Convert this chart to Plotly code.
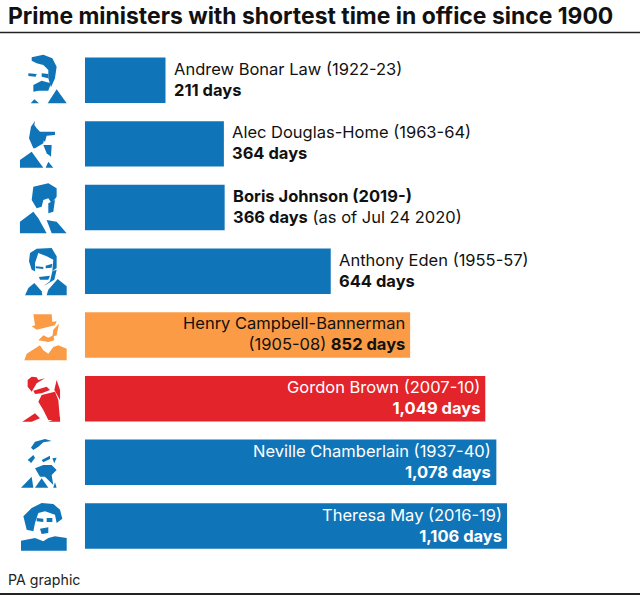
import plotly.graph_objects as go

names = ["Andrew Bonar Law", "Alec Douglas-Home", "Boris Johnson", "Anthony Eden",
         "Henry Campbell-Bannerman", "Gordon Brown", "Neville Chamberlain", "Theresa May"]
days = [211, 364, 366, 644, 852, 1049, 1078, 1106]
colors = ["#0f75b8", "#0f75b8", "#0f75b8", "#0f75b8", "#fb9b45", "#e3242b", "#0f75b8", "#0f75b8"]
labels = ["Andrew Bonar Law (1922-23)<br><b>211 days</b>",
          "Alec Douglas-Home (1963-64)<br><b>364 days</b>",
          "<b>Boris Johnson (2019-)</b><br><b>366 days</b> (as of Jul 24 2020)",
          "Anthony Eden (1955-57)<br><b>644 days</b>",
          "Henry Campbell-Bannerman<br>(1905-08) <b>852 days</b>",
          "Gordon Brown (2007-10)<br><b>1,049 days</b>",
          "Neville Chamberlain (1937-40)<br><b>1,078 days</b>",
          "Theresa May (2016-19)<br><b>1,106 days</b>"]
inside = [False, False, False, False, True, True, True, True]
text_colors = ["#111111", "#111111", "#111111", "#111111", "#111111", "#ffffff", "#ffffff", "#ffffff"]
FONT = "Inter"

# Rough decorative portrait silhouettes (not data): polygons in a 180-unit box per row
portrait_origin_y = [50, 115, 180, 243, 307, 370, 435, 498]
portraits = [
    [[(50,22),(85,14),(112,25),(125,50),(120,85),(108,112),(100,85),(100,60),(85,45),(65,40),(50,32)],
     [(40,70),(65,72),(62,80),(40,78)], [(80,70),(100,72),(100,85),(80,80)],
     [(55,105),(80,92),(108,100),(100,122),(70,122),(55,125)],
     [(98,160),(125,118),(155,160)], [(47,160),(58,148),(72,160)]],
    [[(60,18),(48,35),(42,70),(55,100),(60,100),(85,85),(88,60),(75,50),(65,40),(58,30)],
     [(75,50),(120,50),(120,60),(95,62),(90,80),(75,70)],
     [(85,90),(110,90),(108,125),(95,115)],
     [(15,158),(15,135),(50,110),(75,145),(85,158)], [(92,158),(100,140),(115,158)]],
    [[(55,20),(100,10),(125,25),(125,50),(110,70),(100,55),(85,60),(80,80),(65,85),(50,60)],
     [(100,70),(120,60),(115,95),(100,100)],
     [(15,160),(15,125),(55,95),(70,115),(95,160)], [(95,120),(125,125),(155,160),(110,160)]],
    [[(42,55),(45,30),(65,17),(110,15),(125,40),(125,75),(112,85),(115,50),(95,40),(70,30),(60,60),(60,85),(50,80)],
     [(62,70),(85,72),(85,78),(62,76)], [(92,68),(112,62),(110,74),(92,76)],
     [(72,102),(105,98),(100,110),(75,110)], [(112,85),(125,80),(118,110),(85,130),(105,115)],
     [(30,157),(40,135),(58,120),(80,145),(82,157)], [(95,157),(100,140),(128,108),(155,130),(155,157)]],
    [[(55,22),(110,22),(112,45),(125,42),(120,55),(65,68),(50,58),(60,55)],
     [(115,68),(132,50),(125,85),(112,90)],
     [(70,100),(85,85),(100,92),(115,85),(118,100),(100,105)],
     [(28,160),(35,140),(75,115),(85,130),(100,140),(115,120),(130,115),(155,125),(155,160)]],
    [[(38,30),(50,20),(65,22),(70,30),(90,25),(65,40),(50,65),(38,50)],
     [(55,62),(95,50),(105,60),(80,70),(60,72)],
     [(125,30),(135,60),(135,90),(118,60)],
     [(80,75),(120,65),(130,90),(135,150),(100,150),(85,120),(70,95)],
     [(22,155),(60,130),(75,145),(50,155)], [(100,155),(135,140),(135,155)]],
    [[(48,38),(60,20),(90,12),(110,18),(85,22),(70,35),(55,45)],
     [(38,75),(55,60),(60,68),(48,85),(45,80)],
     [(80,75),(105,62),(105,72),(85,82)], [(112,70),(125,68),(118,85)],
     [(60,100),(85,90),(110,90),(125,105),(110,120),(115,150),(90,125),(75,125)],
     [(18,158),(50,125),(55,158)], [(60,158),(80,130),(100,158)], [(115,158),(120,142),(125,158)]],
    [[(25,55),(50,30),(80,15),(115,18),(135,35),(142,62),(125,75),(120,50),(90,40),(70,45),(60,75),(55,100),(35,95)],
     [(65,60),(85,62),(85,72),(65,70)], [(95,60),(112,60),(112,72),(95,72)],
     [(75,92),(100,88),(100,105),(80,108)],
     [(18,158),(18,128),(60,120),(85,130),(100,120),(120,115),(155,120),(155,158)]],
]

fig = go.Figure(go.Bar(x=days, y=names, orientation="h", marker=dict(color=colors, line_width=0),
                       width=0.714, hoverinfo="skip"))

for n, d, lab, ins, tc in zip(names, days, labels, inside, text_colors):
    fig.add_annotation(x=d, y=n, xref="x", yref="y", text=lab, showarrow=False,
                       xanchor="right" if ins else "left", align="right" if ins else "left",
                       yanchor="middle", xshift=-3.5 if ins else 6, yshift=1,
                       font=dict(family=FONT, size=16.5, color=tc))

fig.add_annotation(x=6 / 640, y=1 - 15.5 / 595, xref="paper", yref="paper", xanchor="left", yanchor="middle",
                   text="<b>Prime ministers with shortest time in office since 1900</b>", showarrow=False,
                   font=dict(family=FONT, size=22.9, color="#111111"))
fig.add_annotation(x=6 / 640, y=1 - 580 / 595, xref="paper", yref="paper", xanchor="left", yanchor="middle",
                   text="PA graphic", showarrow=False, font=dict(family=FONT, size=14.2, color="#222222"))

def line(y, w):
    fig.add_shape(type="line", xref="paper", yref="paper", x0=0, x1=1, y0=y, y1=y,
                  line=dict(color="#222222", width=w))
line(1 - 32.5 / 595, 1.3)
line(1 - 594 / 595, 2)

for polys, oy, col in zip(portraits, portrait_origin_y, colors):
    for poly in polys:
        pts = [((15 + zx / 3) / 640, 1 - (oy + zy / 3) / 595) for zx, zy in poly]
        path = "M " + " L ".join(f"{px:.4f},{py:.4f}" for px, py in pts) + " Z"
        fig.add_shape(type="path", xref="paper", yref="paper", path=path, fillcolor=col, line_width=0)

fig.update_layout(
    width=640, height=595, margin=dict(l=0, r=0, t=0, b=0), autosize=False,
    paper_bgcolor="white", plot_bgcolor="white", showlegend=False,
    xaxis=dict(range=[-222.7, 1454.4], visible=False),
    yaxis=dict(range=[8.083, -1.259], visible=False, categoryorder="array", categoryarray=names),
)
fig.write_html("out.html", config={"displayModeBar": False},
               post_script="document.body.style.margin='0';document.body.style.overflow='hidden';")
